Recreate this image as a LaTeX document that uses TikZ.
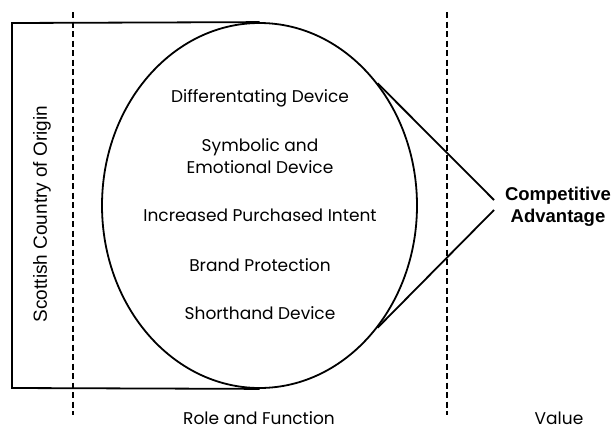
\documentclass[tikz,border=0pt]{standalone}
\usepackage{fontspec}
\setmainfont{Poppins}
\newfontfamily\arialf{Liberation Sans}
\usetikzlibrary{shapes.geometric}
\begin{document}
\begin{tikzpicture}[x=1pt,y=-1pt,
  outline/.style={line width=1.8pt,line join=miter},
  divider/.style={line width=1.6pt,dash pattern=on 6pt off 3.5pt},
  item/.style={font=\fontsize{17}{22}\selectfont,align=center,inner sep=0pt},
  axislabel/.style={font=\fontsize{17}{20}\selectfont,inner sep=0pt,anchor=base}]
\useasboundingbox (0,0) rectangle (615,431);
\node[ellipse,draw,outline,minimum width=315pt,minimum height=365pt,inner sep=0pt] (ell) at (259.5,205.5) {};
\coordinate (tl) at (12,23);
\coordinate (bl) at (12,388);
\draw[outline] (ell.north) -- (tl) -- (bl) -- (ell.south);
\draw[divider] (73,12) coordinate (d1a) -- (73,415) coordinate (d1b);
\draw[divider] (447,12) coordinate (d2a) -- (447,415) coordinate (d2b);
\node[font=\arialf\fontsize{19}{22}\selectfont,rotate=90,inner sep=0pt] (origin) at (42,214) {Scottish Country of Origin};
\node[item] (i1) at (260,98) {Differentating Device};
\node[item] (i2) at (260,156) {Symbolic and\\Emotional Device};
\node[item] (i3) at (260,215) {Increased Purchased Intent};
\node[item] (i4) at (260,265) {Brand Protection};
\node[item] (i5) at (260,313) {Shorthand Device};
\node[font=\arialf\bfseries\fontsize{18.5}{22}\selectfont,align=center,inner sep=0pt] (ca) at (558,207) {Competitive\\Advantage};
\coordinate (caup) at (494,200);
\coordinate (calow) at (494,210);
\draw[outline] (ell.46) -- (caup);
\draw[outline] (ell.-46) -- (calow);
\node[axislabel] (role) at (259,424) {Role and Function};
\node[axislabel] (value) at (559,424) {Value};
\end{tikzpicture}
\end{document}
